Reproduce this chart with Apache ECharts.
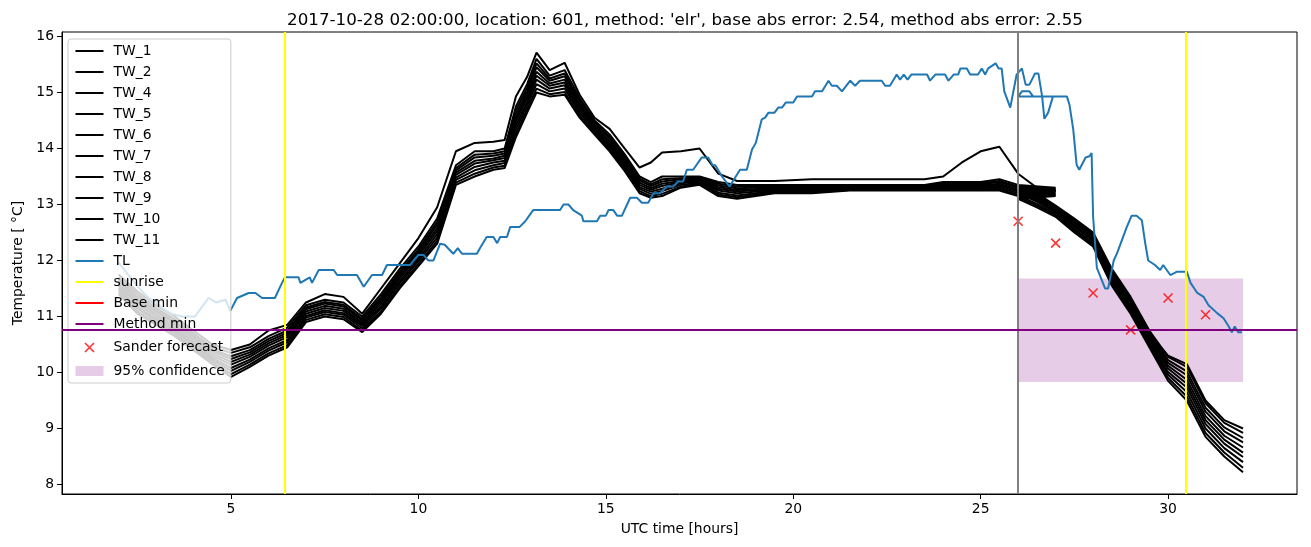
<!DOCTYPE html>
<html>
<head>
<meta charset="utf-8">
<script src="https://cdn.jsdelivr.net/npm/echarts@6/dist/echarts.min.js"></script>
<style>
html,body{margin:0;padding:0;background:#fff;}
#chart{width:1311px;height:547px;}
</style>
</head>
<body>
<div id="chart"></div>
<script>
// ---------------- DATA ----------------
const TITLE = "2017-10-28 02:00:00, location: 601, method: 'elr', base abs error: 2.54, method abs error: 2.55";
const X_TICKS = [5, 10, 15, 20, 25, 30];
const Y_TICKS = [8, 9, 10, 11, 12, 13, 14, 15, 16];

// time axis of the TW sensors (hours; the clock goes back at 27 -> 26)
const TW_TIME = [2,2.5,3,3.5,4,4.5,5,5.5,6,6.5,7,7.5,8,8.5,9,9.5,10,10.5,11,11.5,12,
  12.3,12.6,12.9,13.15,13.5,13.9,14.3,14.7,15.1,15.5,15.9,16.2,16.5,17,17.5,18,18.5,
  19.5,20.5,21.5,22.5,23.5,24,24.5,25,25.5,26,26.5,27,
  26,26.5,27,27.5,28,28.5,29,29.5,30,30.5,31,31.5,32];

const TW_1 = [11.75,11.45,11.2,11.0,10.75,10.5,10.4,10.5,10.75,10.85,
  11.25,11.4,11.35,11.05,11.5,11.95,12.4,12.95,13.95,14.1,
  14.12,14.15,14.93,15.28,15.71,15.4,15.53,14.96,14.55,14.35,
  14.0,13.66,13.75,13.93,13.95,14.0,13.55,13.42,13.42,13.45,
  13.45,13.45,13.45,13.5,13.75,13.95,14.03,13.55,13.3,13.25,
  13.3,13.15,12.95,12.7,12.45,11.8,11.3,10.7,10.3,10.15,
  9.5,9.15,9.0];
const TW_2 = [11.7,11.4,11.15,10.95,10.7,10.45,10.35,10.45,10.65,10.8,
  11.2,11.3,11.25,11.0,11.4,11.85,12.25,12.75,13.7,13.95,
  13.95,14.0,14.75,15.15,15.6,15.3,15.4,14.9,14.5,14.25,
  13.9,13.5,13.4,13.5,13.5,13.5,13.4,13.35,13.35,13.35,
  13.35,13.35,13.35,13.4,13.4,13.4,13.45,13.35,13.3,13.3,
  13.35,13.2,12.98,12.75,12.5,11.85,11.35,10.75,10.28,10.1,
  9.45,9.1,8.92];
const TW_4 = [11.66,11.35,11.11,10.91,10.66,10.41,10.29,10.4,10.6,10.75,
  11.16,11.26,11.21,10.96,11.35,11.8,12.2,12.69,13.65,13.89,
  13.91,13.95,14.68,15.08,15.52,15.25,15.34,14.85,14.47,14.21,
  13.86,13.46,13.36,13.45,13.47,13.48,13.37,13.32,13.33,13.33,
  13.34,13.34,13.34,13.38,13.38,13.38,13.42,13.32,13.28,13.28,
  13.32,13.17,12.95,12.72,12.47,11.81,11.31,10.71,10.22,10.02,
  9.37,9.02,8.83];
const TW_5 = [11.63,11.31,11.08,10.88,10.63,10.38,10.24,10.36,10.56,10.71,
  11.13,11.23,11.18,10.93,11.31,11.76,12.16,12.64,13.61,13.84,
  13.87,13.91,14.61,15.02,15.45,15.21,15.29,14.81,14.44,14.18,
  13.83,13.43,13.33,13.41,13.45,13.46,13.34,13.29,13.31,13.31,
  13.33,13.33,13.33,13.36,13.36,13.36,13.4,13.3,13.26,13.26,
  13.29,13.14,12.93,12.69,12.44,11.78,11.28,10.68,10.17,9.95,
  9.3,8.95,8.75];
const TW_6 = [11.59,11.27,11.04,10.84,10.59,10.34,10.19,10.32,10.52,10.67,
  11.09,11.19,11.14,10.89,11.27,11.72,12.12,12.58,13.57,13.78,
  13.82,13.87,14.54,14.96,15.37,15.16,15.23,14.77,14.41,14.14,
  13.79,13.39,13.29,13.37,13.42,13.44,13.31,13.26,13.29,13.29,
  13.31,13.31,13.31,13.34,13.34,13.34,13.37,13.27,13.24,13.24,
  13.26,13.11,12.9,12.66,12.41,11.74,11.24,10.64,10.12,9.87,
  9.22,8.87,8.66];
const TW_7 = [11.55,11.23,11.0,10.8,10.55,10.3,10.14,10.28,10.48,10.63,
  11.05,11.15,11.1,10.86,11.23,11.68,12.08,12.53,13.53,13.73,
  13.79,13.83,14.48,14.9,15.3,15.12,15.18,14.73,14.38,14.1,
  13.75,13.35,13.26,13.33,13.4,13.43,13.28,13.23,13.28,13.28,
  13.3,13.3,13.3,13.33,13.33,13.33,13.35,13.25,13.23,13.23,
  13.23,13.08,12.88,12.63,12.38,11.7,11.2,10.6,10.07,9.8,
  9.15,8.8,8.57];
const TW_8 = [11.51,11.18,10.96,10.76,10.51,10.26,10.08,10.23,10.43,10.58,
  11.01,11.11,11.06,10.83,11.18,11.63,12.03,12.47,13.48,13.67,
  13.75,13.78,14.41,14.83,15.23,15.07,15.13,14.68,14.35,14.06,
  13.71,13.31,13.23,13.28,13.38,13.41,13.25,13.2,13.26,13.26,
  13.29,13.29,13.29,13.31,13.31,13.31,13.33,13.23,13.21,13.21,
  13.2,13.05,12.86,12.6,12.35,11.66,11.16,10.56,10.01,9.73,
  9.08,8.73,8.49];
const TW_9 = [11.48,11.14,10.93,10.73,10.48,10.23,10.03,10.19,10.39,10.54,
  10.98,11.08,11.03,10.79,11.14,11.59,11.99,12.41,13.44,13.61,
  13.7,13.74,14.34,14.77,15.15,15.02,15.07,14.64,14.31,14.03,
  13.68,13.28,13.19,13.24,13.35,13.39,13.21,13.16,13.24,13.24,
  13.28,13.28,13.28,13.29,13.29,13.29,13.3,13.2,13.19,13.19,
  13.16,13.01,12.83,12.56,12.31,11.63,11.13,10.53,9.96,9.65,
  9.0,8.65,8.4];
const TW_10 = [11.44,11.09,10.89,10.69,10.44,10.19,9.97,10.14,10.34,10.49,
  10.94,11.04,10.99,10.75,11.09,11.54,11.94,12.35,13.39,13.55,
  13.66,13.69,14.27,14.7,15.07,14.97,15.01,14.59,14.28,13.99,
  13.64,13.24,13.15,13.19,13.32,13.37,13.18,13.13,13.22,13.22,
  13.26,13.26,13.26,13.27,13.27,13.27,13.27,13.17,13.17,13.17,
  13.13,12.98,12.8,12.53,12.28,11.59,11.09,10.49,9.9,9.57,
  8.92,8.57,8.3];
const TW_11 = [11.4,11.05,10.85,10.65,10.4,10.15,9.92,10.1,10.3,10.45,
  10.9,11.0,10.95,10.72,11.05,11.5,11.9,12.3,13.35,13.5,
  13.62,13.65,14.2,14.64,15.0,14.93,14.96,14.55,14.25,13.95,
  13.6,13.2,13.12,13.15,13.3,13.35,13.15,13.1,13.2,13.2,
  13.25,13.25,13.25,13.25,13.25,13.25,13.25,13.15,13.15,13.15,
  13.1,12.95,12.78,12.5,12.25,11.55,11.05,10.45,9.85,9.5,
  8.85,8.5,8.22];

const TW_NAMES = ['TW_1','TW_2','TW_4','TW_5','TW_6','TW_7','TW_8','TW_9','TW_10','TW_11'];
const TW_VALUES = [TW_1,TW_2,TW_4,TW_5,TW_6,TW_7,TW_8,TW_9,TW_10,TW_11];

const TL_TIME = [2.0,2.25,2.54,2.8,3.0,3.16,3.4,3.7,4.04,4.2,4.4,4.6,4.85,4.98,5.16,5.47,5.65,5.83,6.17,6.36,6.44,6.8,6.85,7.1,7.16,7.34,7.74,7.83,8.36,8.54,8.76,9.03,9.16,9.78,9.87,10.0,10.14,10.26,10.4,10.58,10.7,10.93,11.05,11.16,11.56,11.64,11.82,12.0,12.1,12.18,12.36,12.45,12.7,12.85,13.06,13.78,13.87,14.0,14.13,14.36,14.4,14.76,14.85,15.0,15.07,15.2,15.3,15.43,15.65,15.83,15.96,16.13,16.27,16.45,16.62,16.8,16.93,17.06,17.16,17.33,17.56,17.73,17.85,17.92,18.1,18.3,18.58,18.76,18.9,19.0,19.16,19.25,19.34,19.5,19.6,19.7,19.8,20.0,20.1,20.5,20.58,20.77,20.94,21.03,21.16,21.3,21.52,21.65,21.78,22.36,22.45,22.58,22.76,22.85,22.95,23.05,23.15,23.57,23.65,23.79,24.05,24.14,24.28,24.4,24.46,24.63,24.72,24.93,25.03,25.12,25.2,25.4,25.48,25.56,25.63,25.79,25.96,26.1,26.2,26.3,26.45,26.54,26.64,26.7,26.8,26.93,
  26.0,26.1,26.3,26.4,27.3,27.37,27.47,27.56,27.63,27.8,27.9,27.96,28.0,28.1,28.32,28.4,28.55,28.64,28.9,29.03,29.16,29.3,29.39,29.47,29.65,29.79,29.87,30.06,30.24,30.5,30.6,30.78,30.95,31.08,31.31,31.48,31.62,31.7,31.78,31.87,31.97];
const TL_VALUE = [11.96,11.75,11.51,11.33,11.25,11.15,11.05,11.0,11.0,11.15,11.33,11.25,11.3,11.1,11.33,11.42,11.42,11.33,11.33,11.6,11.7,11.7,11.6,11.7,11.6,11.83,11.83,11.74,11.74,11.53,11.74,11.74,11.92,11.92,12.0,12.1,12.1,12.0,12.0,12.3,12.28,12.12,12.22,12.12,12.12,12.22,12.42,12.42,12.31,12.42,12.42,12.6,12.6,12.7,12.9,12.9,13.0,13.0,12.9,12.8,12.7,12.7,12.8,12.8,12.9,12.9,12.8,12.8,13.12,13.12,13.03,13.03,13.2,13.2,13.32,13.32,13.41,13.41,13.62,13.62,13.84,13.84,13.7,13.7,13.5,13.32,13.62,13.62,13.98,14.1,14.52,14.55,14.64,14.64,14.73,14.73,14.82,14.82,14.93,14.93,15.02,15.02,15.21,15.12,15.12,15.02,15.21,15.12,15.21,15.21,15.12,15.12,15.32,15.23,15.32,15.23,15.32,15.32,15.21,15.32,15.32,15.21,15.32,15.32,15.43,15.43,15.32,15.32,15.43,15.32,15.43,15.52,15.43,15.43,15.02,14.73,15.32,15.43,15.14,15.14,15.34,15.34,14.93,14.53,14.64,14.93,
  14.93,15.02,15.02,14.93,14.93,14.78,14.34,13.71,13.62,13.84,13.86,13.92,12.78,11.87,11.5,11.5,12.0,12.13,12.6,12.8,12.8,12.72,12.31,12.0,11.92,11.83,11.92,11.74,11.8,11.8,11.6,11.42,11.35,11.2,11.06,10.97,10.82,10.72,10.82,10.72,10.72];

const SUNRISE_HOURS = [6.44, 30.47];
const BASE_MIN = 10.76;
const METHOD_MIN = 10.76;
const FORECAST_TIME = 26.0;
const SANDER_HOURS = [26, 27, 28, 29, 30, 31];
const SANDER_VALUES = [12.7, 12.31, 11.42, 10.76, 11.33, 11.03];
const CONF_HOURS = [26, 32];
const CONF_RANGE = [9.83, 11.68];

// ---------------- CHART ----------------
const FONT = 'DejaVu Sans';
const chart = echarts.init(document.getElementById('chart'), null, {renderer: 'canvas'});

function zip(xs, ys) { return xs.map((x, i) => [x, ys[i]]); }

const LINE_ICON = 'path://M0,0 L0,0 M0,6 L28,6 L28,8 L0,8 Z M28,14 L28,14';
const X_ICON = 'path://M0,0 L0,0 M9.5,2.5 L18.5,11.5 M18.5,2.5 L9.5,11.5 M28,14 L28,14';
const RECT_ICON = 'path://M0,0 L0,0 M0,2 L28,2 L28,12 L0,12 Z M28,14 L28,14';

const series = [];
series.push({
  name: '95% confidence',
  type: 'custom',
  z: 1,
  color: 'rgba(128,0,128,0.2)',
  itemStyle: {color: 'rgba(128,0,128,0.2)'},
  encode: {x: [0, 1], y: [2, 3]},
  data: [[CONF_HOURS[0], CONF_HOURS[1], CONF_RANGE[0], CONF_RANGE[1]]],
  renderItem: function (params, api) {
    const p0 = api.coord([api.value(0), api.value(3)]);
    const p1 = api.coord([api.value(1), api.value(2)]);
    return {type: 'rect', shape: {x: p0[0], y: p0[1], width: p1[0] - p0[0], height: p1[1] - p0[1]},
      style: {fill: 'rgba(128,0,128,0.2)'}};
  }
});
TW_NAMES.forEach((n, i) => {
  series.push({
    name: n, type: 'line', symbol: 'none', showSymbol: false, z: 2,
    color: '#000000',
    lineStyle: {color: '#000000', width: 2},
    data: zip(TW_TIME, TW_VALUES[i])
  });
});
series.push({
  name: 'TL', type: 'line', symbol: 'none', showSymbol: false, z: 2,
  color: '#1f77b4',
  lineStyle: {color: '#1f77b4', width: 2},
  data: zip(TL_TIME, TL_VALUE)
});
series.push({
  name: 'forecast time', type: 'line', symbol: 'none', z: 2, data: [],
  color: '#808080',
  markLine: {silent: true, symbol: 'none', label: {show: false},
    lineStyle: {color: '#808080', width: 2, type: 'solid'},
    data: [{xAxis: FORECAST_TIME}]}
});
series.push({
  name: 'sunrise', type: 'line', symbol: 'none', z: 2, data: [],
  color: '#ffff00', lineStyle: {color: '#ffff00', width: 1.5},
  markLine: {silent: true, symbol: 'none', label: {show: false},
    lineStyle: {color: '#ffff00', width: 2, type: 'solid'},
    data: SUNRISE_HOURS.map(h => ({xAxis: h}))}
});
series.push({
  name: 'Base min', type: 'line', symbol: 'none', z: 2, data: [],
  color: '#ff0000', lineStyle: {color: '#ff0000', width: 1.5},
  markLine: {silent: true, symbol: 'none', label: {show: false},
    lineStyle: {color: '#ff0000', width: 2, type: 'solid'},
    data: [{yAxis: BASE_MIN}]}
});
series.push({
  name: 'Method min', type: 'line', symbol: 'none', z: 2, data: [],
  color: '#800080', lineStyle: {color: '#800080', width: 1.5},
  markLine: {silent: true, symbol: 'none', label: {show: false},
    lineStyle: {color: '#800080', width: 2, type: 'solid'},
    data: [{yAxis: METHOD_MIN}]}
});
series.push({
  name: 'Sander forecast', type: 'scatter', z: 3,
  symbol: 'path://M0,0 L10,10 M10,0 L0,10',
  symbolSize: 9,
  color: '#ff0000',
  itemStyle: {color: 'none', borderColor: '#ff0000', borderWidth: 1.6},
  data: zip(SANDER_HOURS, SANDER_VALUES)
});

const LINE_LEGEND = TW_NAMES.concat(['TL', 'sunrise', 'Base min', 'Method min']);
const legendData = LINE_LEGEND.map(n => ({name: n, icon: LINE_ICON}));
legendData.push({name: 'Sander forecast', icon: X_ICON,
  itemStyle: {color: 'none', borderColor: '#ff0000', borderWidth: 1.6}});
legendData.push({name: '95% confidence', icon: RECT_ICON,
  itemStyle: {color: 'rgba(128,0,128,0.2)', borderWidth: 0}});

const option = {
  animation: false,
  backgroundColor: '#ffffff',
  title: {
    text: TITLE, left: 680, top: 7, textAlign: 'center',
    textStyle: {fontFamily: FONT, fontSize: 16.7, fontWeight: 'normal', color: '#000'}
  },
  grid: {left: 62, right: 14, top: 32, bottom: 53, show: true, borderColor: '#000', borderWidth: 1, backgroundColor: 'transparent'},
  legend: {
    orient: 'vertical', left: 68, top: 39,
    itemWidth: 28, itemHeight: 14, itemGap: 7,
    padding: [5, 6, 5, 5],
    backgroundColor: 'rgba(255,255,255,0.8)',
    borderColor: '#cccccc', borderWidth: 1, borderRadius: 3,
    selectedMode: false,
    itemStyle: {borderWidth: 0},
    textStyle: {fontFamily: FONT, fontSize: 13.9, color: '#000', padding: [0, 0, 0, 5]},
    data: legendData
  },
  xAxis: {
    type: 'value', min: 0.49, max: 33.44,
    name: 'UTC time [hours]', nameLocation: 'middle', nameGap: 28,
    nameTextStyle: {fontFamily: FONT, fontSize: 13.9, color: '#000'},
    axisLine: {lineStyle: {color: '#000', width: 1}},
    axisTick: {show: true, length: 5, lineStyle: {color: '#000'}, customValues: X_TICKS},
    axisLabel: {fontFamily: FONT, fontSize: 13.9, color: '#000', margin: 8, customValues: X_TICKS},
    splitLine: {show: false}
  },
  yAxis: {
    type: 'value', min: 7.83, max: 16.08,
    name: 'Temperature [ °C]', nameLocation: 'middle', nameGap: 36, nameRotate: 90,
    nameTextStyle: {fontFamily: FONT, fontSize: 13.9, color: '#000'},
    axisLine: {show: true, lineStyle: {color: '#000', width: 1}},
    axisTick: {show: true, length: 5, lineStyle: {color: '#000'}, customValues: Y_TICKS},
    axisLabel: {fontFamily: FONT, fontSize: 13.9, color: '#000', margin: 8, customValues: Y_TICKS},
    splitLine: {show: false}
  },
  series: series
};
chart.setOption(option);
</script>
</body>
</html>
